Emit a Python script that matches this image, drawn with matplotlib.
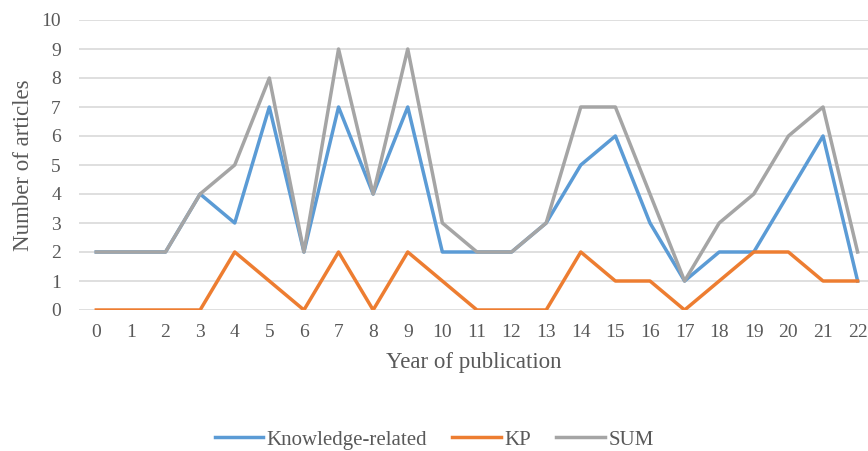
import matplotlib.pyplot as plt

years = list(range(23))
knowledge = [2, 2, 2, 4, 3, 7, 2, 7, 4, 7, 2, 2, 2, 3, 5, 6, 3, 1, 2, 2, 4, 6, 1]
kp = [0, 0, 0, 0, 2, 1, 0, 2, 0, 2, 1, 0, 0, 0, 2, 1, 1, 0, 1, 2, 2, 1, 1]
total = [2, 2, 2, 4, 5, 8, 2, 9, 4, 9, 3, 2, 2, 3, 7, 7, 4, 1, 3, 4, 6, 7, 2]

plt.rcParams['font.family'] = ['Liberation Serif', 'DejaVu Serif']

fig = plt.figure(figsize=(8.68, 4.51), dpi=100)
# plot area: x from 79 px to the right edge, y from 20 px to 310 px
ax = fig.add_axes([79 / 868, 1 - 310 / 451, 1 - 79 / 868, 290 / 451])

ax.plot(years, knowledge, color='#5B9BD5', lw=2.5, label='Knowledge-related')
ax.plot(years, kp, color='#ED7D31', lw=2.5, label='KP')
ax.plot(years, total, color='#A5A5A5', lw=2.5, label='SUM')

ax.set_xlim(-0.5, 22.3)
ax.set_ylim(0, 10)
ax.set_xticks(years)
ax.set_yticks(range(11))
ax.grid(axis='y', color='#D9D9D9', lw=1.2)
ax.set_axisbelow(True)
for s in ax.spines.values():
    s.set_visible(False)
ax.tick_params(length=0, labelsize=14, colors='#595959')
ax.tick_params(axis='x', pad=10)
ax.tick_params(axis='y', pad=13)

ax.set_xlabel('Year of publication', fontsize=16.5, color='#595959', labelpad=8)
ax.set_ylabel('Number of articles', fontsize=16.5, color='#595959', labelpad=5)

fig.legend(loc='center', bbox_to_anchor=(0.5, 1 - 440 / 451), ncol=3, frameon=False,
           fontsize=15, handlelength=2.35, columnspacing=1.2, handletextpad=0.15,
           labelcolor='#595959')

fig.savefig('out.png', dpi=100)
